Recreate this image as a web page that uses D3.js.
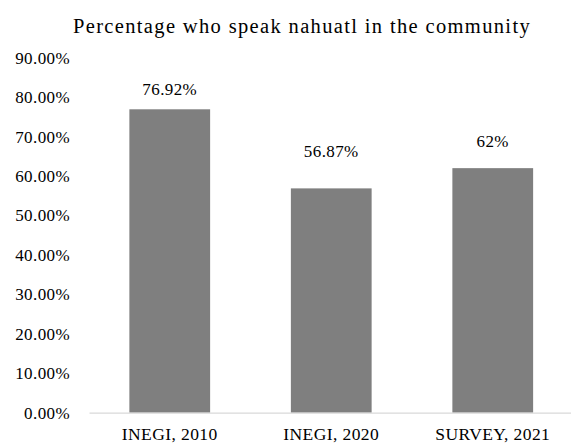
<!DOCTYPE html>
<html>
<head>
<meta charset="utf-8">
<script src="https://cdn.jsdelivr.net/npm/d3@7"></script>
<style>
  body { margin: 0; background: #fff; }
</style>
</head>
<body>
<div id="chart"></div>
<script>
// chart data
var categories = ["INEGI, 2010", "INEGI, 2020", "SURVEY, 2021"];
var values = [76.92, 56.87, 62];
var valueLabels = ["76.92%", "56.87%", "62%"];
var yTicks = [0, 10, 20, 30, 40, 50, 60, 70, 80, 90];

function Barchart() {
  var w = 571;
  var h = 443;
  var left = 89, right = 573.5, top = 57.7, bottom = 412.7;
  var serif = "'Liberation Serif', 'Times New Roman', serif";

  var svg = d3.select("#chart")
    .append("svg")
    .attr("width", w)
    .attr("height", h);

  var xScale = d3.scaleBand()
    .domain(categories)
    .range([left, right])
    .paddingInner(0.5)
    .paddingOuter(0.25);

  var yScale = d3.scaleLinear()
    .domain([0, 90])
    .range([bottom, top]);

  // title
  svg.append("text")
    .attr("x", 302)
    .attr("y", 33)
    .attr("text-anchor", "middle")
    .attr("font-family", serif)
    .attr("font-size", "20.5px")
    .attr("letter-spacing", "1.35px")
    .attr("fill", "#000")
    .text("Percentage who speak nahuatl in the community");

  // y axis labels, no line
  var yAxis = d3.axisLeft(yScale)
    .tickValues(yTicks)
    .tickSize(0)
    .tickPadding(19)
    .tickFormat(function (d) { return d.toFixed(2) + "%"; });
  var gy = svg.append("g")
    .attr("transform", "translate(" + left + ",0)")
    .call(yAxis)
    .attr("font-family", serif)
    .attr("font-size", "17px");
  gy.select(".domain").remove();
  gy.selectAll("text").attr("fill", "#000").attr("letter-spacing", "0.4px");

  // bars
  svg.selectAll("rect.bar")
    .data(values)
    .enter()
    .append("rect")
    .attr("class", "bar")
    .attr("x", function (d, i) { return xScale(categories[i]); })
    .attr("y", function (d) { return yScale(d); })
    .attr("width", xScale.bandwidth())
    .attr("height", function (d) { return yScale(0) - yScale(d); })
    .attr("fill", "#7f7f7f");

  // x axis
  var xAxis = d3.axisBottom(xScale).tickSize(0).tickPadding(15);
  var gx = svg.append("g")
    .attr("transform", "translate(0," + bottom + ")")
    .call(xAxis)
    .attr("font-family", serif)
    .attr("font-size", "17.5px");
  gx.select(".domain")
    .attr("stroke", "#d9d9d9")
    .attr("stroke-width", 1.3);
  gx.selectAll("text").attr("fill", "#000").attr("letter-spacing", "0.4px");

  // value labels (Excel placed them at uneven heights)
  var labelGap = [14, 31, 21];
  svg.selectAll("text.val")
    .data(values)
    .enter()
    .append("text")
    .attr("class", "val")
    .attr("x", function (d, i) { return xScale(categories[i]) + xScale.bandwidth() / 2; })
    .attr("y", function (d, i) { return yScale(d) - labelGap[i]; })
    .attr("text-anchor", "middle")
    .attr("font-family", serif)
    .attr("font-size", "17px")
    .attr("letter-spacing", "0.4px")
    .attr("fill", "#000")
    .text(function (d, i) { return valueLabels[i]; });
}
window.onload = Barchart;
</script>
</body>
</html>
